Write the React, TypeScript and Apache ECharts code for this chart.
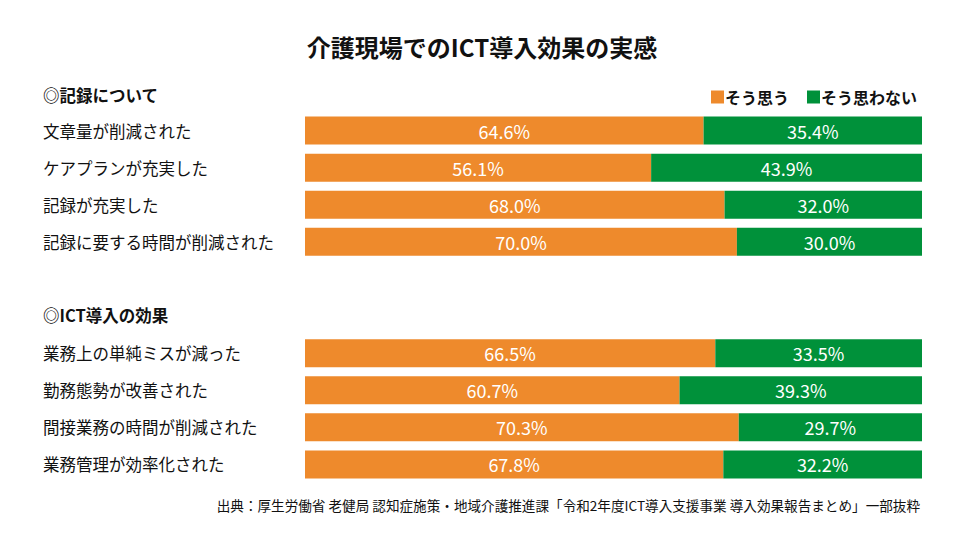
import React, { useEffect, useRef } from "react";
import * as echarts from "echarts";

const categories = [
  "文章量が削減された",
  "ケアプランが充実した",
  "記録が充実した",
  "記録に要する時間が削減された",
  "",
  "",
  "業務上の単純ミスが減った",
  "勤務態勢が改善された",
  "間接業務の時間が削減された",
  "業務管理が効率化された",
];
const agree = [64.6, 56.1, 68.0, 70.0, null, null, 66.5, 60.7, 70.3, 67.8];
const disagree = [35.4, 43.9, 32.0, 30.0, null, null, 33.5, 39.3, 29.7, 32.2];
const seriesNames = ["そう思う", "そう思わない"];
const sectionHeaders = ["◎記録について", "◎ICT導入の効果"];
const titleText = "介護現場でのICT導入効果の実感";
const sourceText = "出典：厚生労働省 老健局 認知症施策・地域介護推進課「令和2年度ICT導入支援事業 導入効果報告まとめ」一部抜粋";

const ORANGE = "#EE8A2C";
const GREEN = "#00913A";
const FONT = "'Noto Sans CJK JP', 'Noto Sans', sans-serif";

export default function App() {
  const ref = useRef<HTMLDivElement>(null);
  useEffect(() => {
    if (!ref.current) return;
    const chart = echarts.init(ref.current, null, { renderer: "svg" });
    const label = {
      show: true,
      position: "inside",
      color: "#fff",
      fontSize: 18,
      fontFamily: FONT,
      formatter: (p: any) => (p.value == null ? "" : p.value.toFixed(1) + "%"),
    };
    chart.setOption({
      animation: false,
      backgroundColor: "#fff",
      textStyle: { fontFamily: FONT },
      title: {
        text: titleText,
        left: "center",
        top: 29,
        textStyle: { fontSize: 24, fontWeight: "bold", color: "#111", fontFamily: FONT },
      },
      legend: {
        right: 42,
        top: 84,
        itemWidth: 13,
        itemHeight: 13,
        itemGap: 18,
        icon: "rect",
        textStyle: { fontSize: 16, fontWeight: "bold", color: "#111", fontFamily: FONT, padding: [0, 0, 0, -4] },
        data: seriesNames,
      },
      grid: { left: 305, right: 42, top: 112, bottom: 56 },
      xAxis: { type: "value", min: 0, max: 100, show: false },
      yAxis: {
        type: "category",
        inverse: true,
        data: categories,
        axisLine: { show: false },
        axisTick: { show: false },
        axisLabel: {
          align: "left",
          margin: 262,
          fontSize: 16.5,
          color: "#111",
          fontFamily: FONT,
        },
      },
      series: [
        {
          name: seriesNames[0],
          type: "bar",
          stack: "t",
          barWidth: 28,
          data: agree,
          itemStyle: { color: ORANGE },
          label,
        },
        {
          name: seriesNames[1],
          type: "bar",
          stack: "t",
          barWidth: 28,
          data: disagree,
          itemStyle: { color: GREEN },
          label,
        },
      ],
      graphic: [
        {
          type: "text",
          left: 43,
          top: 87,
          style: { text: sectionHeaders[0], fontSize: 16.5, fontWeight: "bold", fill: "#111", fontFamily: FONT },
        },
        {
          type: "text",
          left: 43,
          top: 307,
          style: { text: sectionHeaders[1], fontSize: 16.5, fontWeight: "bold", fill: "#111", fontFamily: FONT },
        },
        {
          type: "text",
          right: 44,
          top: 498,
          style: { text: sourceText, fontSize: 13.6, fill: "#111", fontFamily: FONT },
        },
      ],
    });
    return () => chart.dispose();
  }, []);
  return <div ref={ref} style={{ position: "absolute", left: 0, top: 0, width: 964, height: 539 }} />;
}
